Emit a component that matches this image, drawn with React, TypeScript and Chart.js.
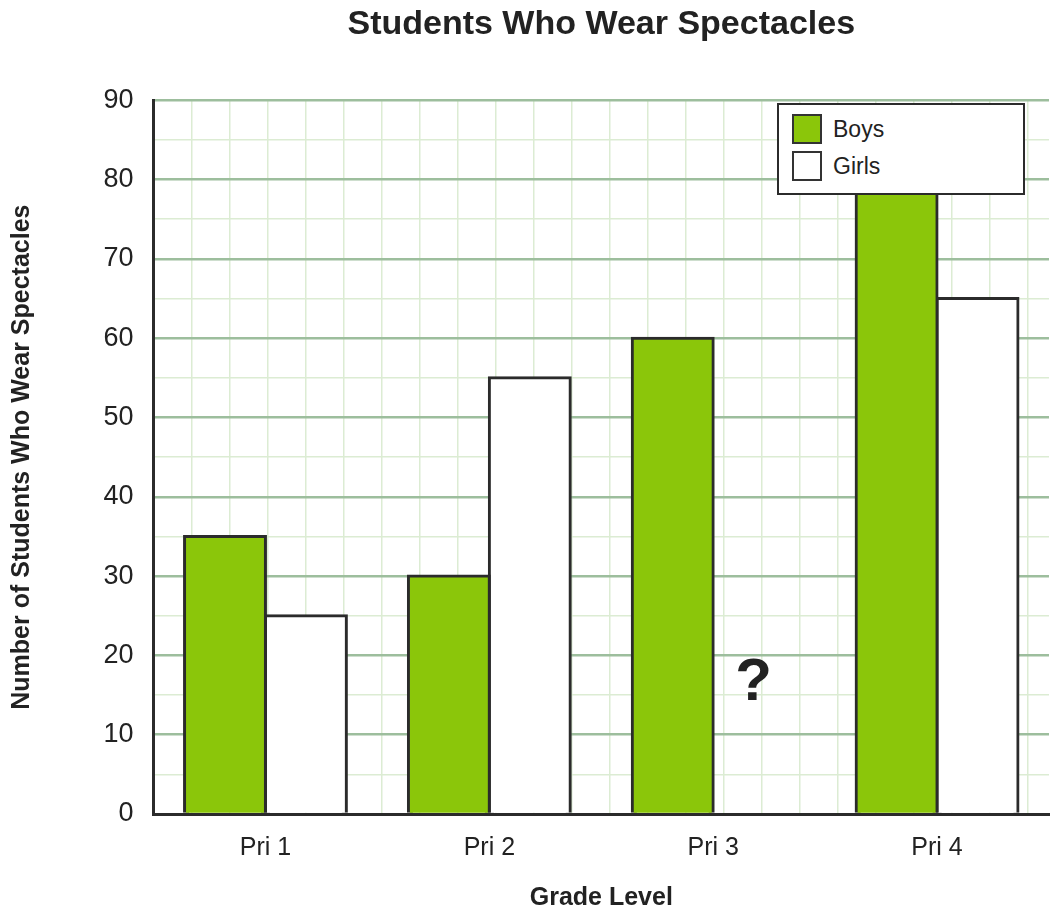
import { Chart, registerables } from 'chart.js';
import { useEffect, useRef } from 'react';

Chart.register(...registerables);

// chart data
const grades = ['Pri 1', 'Pri 2', 'Pri 3', 'Pri 4'];
const boys = [35, 30, 60, 85];
const girls = [25, 55, null, 65];
const seriesLabels = ['Boys', 'Girls'];
const seriesColors = ['#8bc60a', '#ffffff'];
const yTickLabels = [0, 10, 20, 30, 40, 50, 60, 70, 80, 90];
const unknownIndex = 2; // Pri 3 girls is the missing value
const unknownValue = 16.5; // height of the "?" mark

const FONT = '"Liberation Sans", Arial, Helvetica, sans-serif';
const INK = '#222222';
const AXIS = '#2b2b2b';
const MAJOR_GRID = '#9dbe9d';
const MINOR_GRID = '#dcecd3';

// draws the "?" where the missing bar would be
const unknownMark = {
  id: 'unknownMark',
  afterDatasetsDraw(chart: any) {
    const bar = chart.getDatasetMeta(1).data[unknownIndex];
    if (!bar) return;
    const y = chart.scales.y.getPixelForValue(unknownValue);
    const ctx = chart.ctx;
    ctx.save();
    ctx.font = `bold 60px ${FONT}`;
    ctx.fillStyle = INK;
    ctx.textAlign = 'center';
    ctx.textBaseline = 'middle';
    ctx.fillText('?', bar.x, y);
    ctx.restore();
  },
};

const App: React.FC = () => {
  const chartRef = useRef<HTMLCanvasElement>(null);
  const chartInstanceRef = useRef<Chart | null>(null);

  useEffect(() => {
    const ctx = chartRef.current?.getContext('2d');

    if (ctx && chartInstanceRef.current === null) {
      Chart.defaults.font.family = FONT;
      Chart.defaults.color = INK;

      chartInstanceRef.current = new Chart(ctx, {
        type: 'bar',
        data: {
          labels: grades,
          datasets: [
            {
              label: seriesLabels[0],
              data: boys,
              backgroundColor: seriesColors[0],
              borderColor: AXIS,
              borderWidth: 3,
              inflateAmount: 1.5,
            },
            {
              label: seriesLabels[1],
              data: girls,
              backgroundColor: seriesColors[1],
              borderColor: AXIS,
              borderWidth: 3,
              inflateAmount: 1.5,
            },
          ],
        },
        options: {
          animation: false,
          responsive: true,
          maintainAspectRatio: false,
          categoryPercentage: 0.723,
          barPercentage: 1,
          layout: { padding: { left: 0, right: 10, top: 0, bottom: 0 } },
          plugins: {
            legend: { display: false },
            tooltip: { enabled: false },
            title: {
              display: true,
              text: 'Students Who Wear Spectacles',
              fullSize: false,
              color: INK,
              font: { size: 34, weight: 'bold' },
              padding: { top: 4, bottom: 55.5 },
            },
          },
          scales: {
            x: {
              grid: { display: false, drawTicks: false },
              border: { color: AXIS, width: 3, z: 1 },
              ticks: { font: { size: 25 }, color: INK, padding: 19 },
              title: {
                display: true,
                text: 'Grade Level',
                color: INK,
                font: { size: 25, weight: 'bold' },
                padding: { top: 1, bottom: 4 },
              },
            },
            xGrid: {
              type: 'linear',
              position: 'top',
              min: 0,
              max: 22.56,
              grid: { color: MINOR_GRID, lineWidth: 1.5, drawTicks: false, z: -1 },
              border: { display: false },
              ticks: { display: false, stepSize: 1, includeBounds: false, autoSkip: false },
            },
            y: {
              min: 0,
              max: 90,
              grid: {
                drawTicks: false,
                color: (c: any) =>
                  c.tick && c.tick.value === 0 ? AXIS : c.tick && c.tick.value % 10 === 0 ? MAJOR_GRID : MINOR_GRID,
                lineWidth: (c: any) => (c.tick && c.tick.value % 10 === 0 ? 2.5 : 1.5),
              },
              border: { color: AXIS, width: 3, z: 1 },
              ticks: {
                stepSize: 5,
                autoSkip: false,
                padding: 20,
                font: { size: 27 },
                color: INK,
                callback: (v: any) => (yTickLabels.includes(Number(v)) ? String(v) : ''),
              },
              title: {
                display: true,
                text: 'Number of Students Who Wear Spectacles',
                color: INK,
                font: { size: 25, weight: 'bold' },
                padding: { top: 7.5, bottom: 46 },
              },
            },
          },
        },
        plugins: [unknownMark],
      });
    }

    return () => {
      if (chartInstanceRef.current) {
        chartInstanceRef.current.destroy();
        chartInstanceRef.current = null;
      }
    };
  }, []);

  return (
    <div style={{ position: 'fixed', left: 0, top: 0, width: 1059, height: 917, background: '#fff' }}>
      <canvas ref={chartRef} />
      <div
        style={{
          position: 'absolute',
          left: 777,
          top: 103,
          width: 248,
          height: 92,
          boxSizing: 'border-box',
          border: `2px solid ${AXIS}`,
          background: '#fff',
          fontFamily: FONT,
          fontSize: 23,
          color: INK,
        }}
      >
        {seriesLabels.map((label, i) => (
          <div
            key={label}
            style={{ position: 'absolute', left: 13, top: 9 + i * 37, height: 30, display: 'flex', alignItems: 'center' }}
          >
            <span
              style={{
                display: 'inline-block',
                width: 30,
                height: 30,
                boxSizing: 'border-box',
                border: `2.5px solid #333`,
                background: seriesColors[i],
              }}
            />
            <span style={{ marginLeft: 11 }}>{label}</span>
          </div>
        ))}
      </div>
    </div>
  );
};

export default App;
